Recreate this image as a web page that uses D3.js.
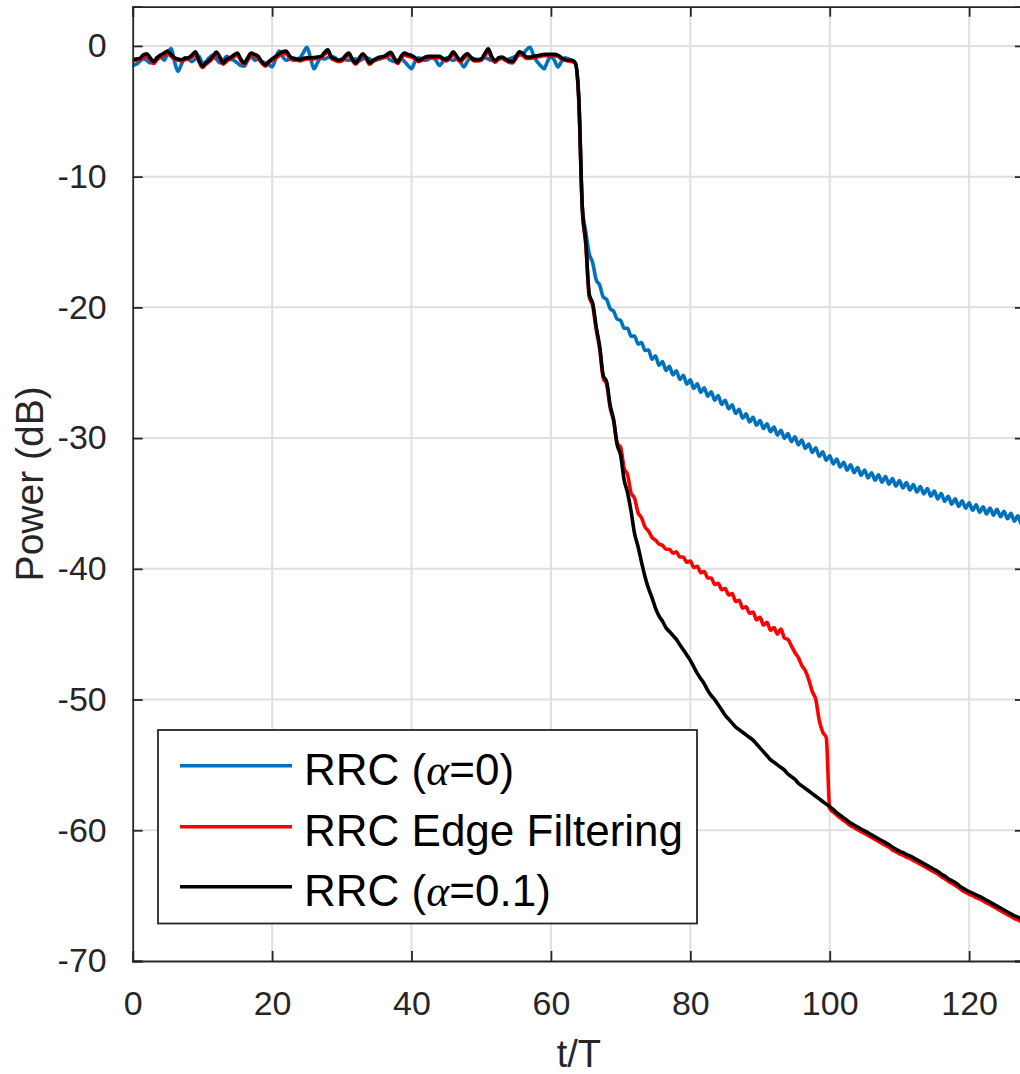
<!DOCTYPE html>
<html>
<head>
<meta charset="utf-8">
<script src="https://cdn.jsdelivr.net/npm/d3@7"></script>
<style>
  html, body { margin: 0; padding: 0; background: #fff; }
  svg { display: block; }
</style>
</head>
<body>
<svg id="chart" width="1020" height="1074"></svg>
<script>
// ---------------- DATA ----------------
const xTicks = [0, 20, 40, 60, 80, 100, 120];
const yTicks = [0, -10, -20, -30, -40, -50, -60, -70];
const xDomain = [0, 128];
const yDomain = [-70, 3];
const seriesNames = ["RRC (\u03B1=0)", "RRC Edge Filtering", "RRC (\u03B1=0.1)"];
const tStep = 0.5;      // sampling step of the read-off values (t/T)
const tailStart = 64;   // tail arrays start at t/T = 64

// t = 0 ... 63.5 (8 values per line = 4 units of t/T)
const blueFlat = [
  -1.5,-1.4,-1.2,-1.0,-1.1,-1.3,-1.2,-0.9,
  -0.8,-1.1,-0.6,-0.2,-1.2,-1.95,-1.4,-0.9,
  -1.0,-1.2,-1.0,-0.8,-1.3,-1.2,-0.9,-0.7,
  -1.0,-1.3,-1.1,-0.8,-1.0,-1.1,-1.3,-1.5,
  -1.55,-1.1,-0.8,-1.1,-1.0,-1.2,-1.3,-1.4,
  -1.6,-1.0,-0.4,-0.8,-1.1,-1.0,-0.9,-1.0,
  -0.9,-0.5,-0.1,-0.9,-1.75,-1.3,-0.9,-1.0,
  -0.9,-0.8,-0.9,-1.1,-1.0,-1.05,-1.1,-1.0,
  -1.0,-1.15,-1.0,-0.9,-1.0,-1.1,-1.05,-1.0,
  -0.85,-0.9,-1.1,-1.2,-1.1,-1.0,-1.2,-1.5,
  -1.75,-1.2,-0.9,-1.0,-1.1,-1.0,-0.9,-1.1,
  -1.5,-1.2,-0.9,-1.0,-1.1,-1.0,-1.2,-1.6,
  -1.2,-0.9,-1.0,-1.1,-1.0,-0.9,-1.0,-1.1,
  -1.1,-1.0,-0.9,-1.1,-1.0,-0.9,-0.8,-0.7,
  -0.6,-0.3,-0.1,-0.7,-1.2,-1.5,-1.75,-1.2,
  -0.8,-1.1,-1.6,-1.2,-0.9,-1.0,-1.1,-1.3
];
const redFlat = [
  -1.15,-1.1,-1.05,-0.85,-0.8,-1.05,-1.35,-1.05,
  -0.85,-0.7,-0.6,-0.8,-1.0,-1.1,-1.15,-1.05,
  -1.0,-0.85,-0.65,-1.2,-1.65,-1.4,-1.2,-0.95,
  -0.65,-0.95,-1.4,-1.15,-1.0,-0.85,-0.7,-1.1,
  -1.4,-1.05,-0.7,-0.8,-0.95,-1.3,-1.55,-1.3,
  -1.1,-0.95,-0.75,-0.6,-0.6,-0.9,-1.1,-1.1,
  -1.15,-1.05,-1.0,-1.0,-1.0,-0.95,-0.9,-0.65,
  -0.5,-0.95,-1.1,-1.2,-1.15,-0.9,-0.7,-1.1,
  -1.4,-1.05,-0.75,-1.0,-1.4,-1.2,-1.05,-0.95,
  -0.9,-0.8,-0.65,-1.0,-1.35,-0.95,-0.7,-0.8,
  -0.85,-1.0,-1.2,-1.1,-0.95,-0.9,-0.9,-0.9,
  -0.9,-1.05,-1.15,-0.95,-0.6,-0.95,-1.2,-0.95,
  -0.75,-0.95,-1.15,-1.15,-1.1,-0.75,-0.45,-0.95,
  -1.25,-1.0,-0.95,-1.1,-1.25,-1.3,-0.95,-0.6,
  -0.75,-0.95,-0.95,-0.9,-0.85,-0.8,-0.75,-0.75,
  -0.75,-0.75,-0.8,-1.0,-1.1,-1.15,-1.2,-1.35
];
const blackFlat = [
  -1.05,-1.0,-0.95,-0.7,-0.6,-0.9,-1.2,-0.9,
  -0.7,-0.55,-0.4,-0.65,-0.9,-1.0,-1.05,-0.95,
  -0.9,-0.7,-0.45,-1.1,-1.55,-1.3,-1.1,-0.8,
  -0.47,-0.85,-1.3,-1.0,-0.9,-0.7,-0.55,-1.0,
  -1.3,-0.9,-0.55,-0.65,-0.8,-1.2,-1.45,-1.2,
  -1.0,-0.8,-0.6,-0.45,-0.4,-0.75,-0.97,-1.0,
  -1.05,-0.95,-0.9,-0.9,-0.88,-0.85,-0.8,-0.5,
  -0.3,-0.85,-1.0,-1.1,-1.05,-0.75,-0.55,-1.0,
  -1.3,-0.95,-0.6,-0.9,-1.3,-1.1,-0.95,-0.85,
  -0.8,-0.65,-0.48,-0.9,-1.25,-0.8,-0.55,-0.65,
  -0.72,-0.9,-1.1,-1.0,-0.85,-0.8,-0.8,-0.8,
  -0.8,-0.95,-1.05,-0.8,-0.45,-0.8,-1.1,-0.8,
  -0.58,-0.85,-1.05,-1.05,-1.0,-0.6,-0.22,-0.8,
  -1.15,-0.9,-0.85,-1.0,-1.15,-1.2,-0.8,-0.45,
  -0.6,-0.85,-0.85,-0.8,-0.75,-0.7,-0.65,-0.65,
  -0.65,-0.65,-0.7,-0.9,-1.05,-1.1,-1.1,-1.3
];

// t = 64 ... 128
const blueTail = [
  -4.0,-12.3,-14.2,-15.9,-16.6,-17.9,-18.3,-19.2,
  -19.4,-20.1,-20.3,-20.9,-21.0,-21.6,-21.6,-22.2,
  -22.2,-22.8,-22.7,-23.3,-23.25,-23.97,-23.7,-24.42,
  -24.15,-24.82,-24.5,-25.17,-24.85,-25.52,-25.2,-25.87,
  -25.55,-26.2,-25.85,-26.5,-26.15,-26.8,-26.45,-27.1,
  -26.75,-27.42,-27.1,-27.77,-27.45,-28.12,-27.8,-28.47,
  -28.15,-28.77,-28.4,-29.02,-28.65,-29.27,-28.9,-29.52,
  -29.15,-29.77,-29.4,-30.02,-29.65,-30.27,-29.9,-30.52,
  -30.15,-30.8,-30.45,-31.1,-30.75,-31.4,-31.05,-31.7,
  -31.35,-31.97,-31.6,-32.22,-31.85,-32.45,-32.05,-32.65,
  -32.25,-32.85,-32.45,-33.05,-32.65,-33.22,-32.8,-33.37,
  -32.95,-33.52,-33.1,-33.67,-33.25,-33.82,-33.4,-33.97,
  -33.55,-34.12,-33.7,-34.27,-33.85,-34.45,-34.05,-34.65,
  -34.25,-34.85,-34.45,-35.05,-34.65,-35.22,-34.8,-35.37,
  -34.95,-35.52,-35.1,-35.67,-35.25,-35.8,-35.35,-35.9,
  -35.45,-36.02,-35.6,-36.17,-35.75,-36.35,-35.95,-36.6,
  -36.25
];
const redTail = [
  -4.2,-12.5,-15.2,-19.2,-19.9,-21.7,-23.2,-25.4,
  -25.9,-27.7,-28.7,-30.4,-30.7,-32.3,-32.8,-34.2,
  -34.6,-35.7,-36.1,-36.8,-37.1,-37.6,-37.8,-38.1,
  -38.2,-38.5,-38.5,-38.8,-38.7,-39.1,-39.1,-39.5,
  -39.4,-39.9,-39.8,-40.3,-40.2,-40.7,-40.7,-41.2,
  -41.1,-41.6,-41.5,-42.0,-41.9,-42.5,-42.4,-43.0,
  -42.9,-43.4,-43.3,-43.9,-43.7,-44.3,-44.1,-44.7,
  -44.5,-45.0,-44.6,-45.3,-45.4,-45.9,-46.4,-46.8,
  -47.4,-47.8,-48.5,-49.4,-50.0,-51.6,-52.5,-52.9,
  -58.35,-58.6,-58.85,-59.05,-59.25,-59.45,-59.65,-59.8,
  -59.95,-60.1,-60.25,-60.4,-60.55,-60.7,-60.85,-61.0,
  -61.15,-61.3,-61.5,-61.65,-61.8,-61.9,-62.05,-62.15,
  -62.3,-62.45,-62.6,-62.75,-62.9,-63.05,-63.2,-63.35,
  -63.55,-63.7,-63.9,-64.05,-64.2,-64.4,-64.6,-64.75,
  -64.9,-65.0,-65.15,-65.25,-65.4,-65.55,-65.7,-65.85,
  -66.0,-66.15,-66.3,-66.45,-66.6,-66.75,-66.85,-67.0,
  -67.15
];
const blackTail = [
  -4.0,-12.3,-15.0,-19.0,-19.7,-21.5,-23.0,-25.2,
  -25.7,-27.5,-28.6,-30.5,-31.3,-33.2,-34.2,-35.6,
  -37.3,-38.3,-39.5,-40.6,-41.5,-42.2,-43.0,-43.6,
  -44.0,-44.5,-44.8,-45.1,-45.4,-45.8,-46.2,-46.6,
  -47.0,-47.5,-48.0,-48.4,-48.8,-49.3,-49.7,-50.0,
  -50.4,-50.8,-51.2,-51.5,-51.8,-52.1,-52.3,-52.5,
  -52.7,-52.9,-53.1,-53.4,-53.7,-54.0,-54.3,-54.6,
  -54.8,-55.0,-55.2,-55.4,-55.7,-55.9,-56.1,-56.4,
  -56.6,-56.8,-57.0,-57.2,-57.4,-57.6,-57.8,-58.0,
  -58.2,-58.4,-58.65,-58.85,-59.05,-59.25,-59.45,-59.6,
  -59.75,-59.9,-60.05,-60.2,-60.35,-60.5,-60.65,-60.8,
  -60.95,-61.1,-61.3,-61.45,-61.6,-61.7,-61.85,-61.95,
  -62.1,-62.25,-62.4,-62.55,-62.7,-62.85,-63.0,-63.15,
  -63.35,-63.5,-63.7,-63.85,-64.0,-64.2,-64.4,-64.55,
  -64.7,-64.8,-64.95,-65.05,-65.2,-65.35,-65.5,-65.65,
  -65.8,-65.95,-66.1,-66.25,-66.4,-66.55,-66.65,-66.8,
  -66.95
];

// ---------------- LAYOUT ----------------
const colors = ["#0072BD", "#FF0000", "#000000"];
const margin = { left: 132.7, top: 6.7, right: 1024.9, bottom: 961 };
const textColor = "#262626";
const font = "'Liberation Sans', Arial, Helvetica, sans-serif";
const lineWidth = 3.6;

function build(flat, tail) {
  return flat.map((v, i) => ({ t: i * tStep, v }))
    .concat(tail.map((v, i) => ({ t: tailStart + i * tStep, v })));
}
const series = [build(blueFlat, blueTail), build(redFlat, redTail), build(blackFlat, blackTail)];

const svg = d3.select("#chart");
svg.append("rect").attr("width", 1020).attr("height", 1074).attr("fill", "#fff");

const x = d3.scaleLinear().domain(xDomain).range([margin.left, margin.right]);
const y = d3.scaleLinear().domain(yDomain).range([margin.bottom, margin.top]);

// grid
const grid = svg.append("g").attr("stroke", "#dfdfdf").attr("stroke-width", 2);
grid.selectAll(".vg").data(xTicks.filter(d => d > xDomain[0])).enter().append("line")
  .attr("x1", d => x(d)).attr("x2", d => x(d))
  .attr("y1", margin.top).attr("y2", margin.bottom);
grid.selectAll(".hg").data(yTicks.filter(d => d > yDomain[0])).enter().append("line")
  .attr("y1", d => y(d)).attr("y2", d => y(d))
  .attr("x1", margin.left).attr("x2", margin.right);

// clip
svg.append("clipPath").attr("id", "plotclip").append("rect")
  .attr("x", margin.left).attr("y", margin.top)
  .attr("width", margin.right - margin.left).attr("height", margin.bottom - margin.top);

const line = d3.line().x(d => x(d.t)).y(d => y(d.v)).curve(d3.curveMonotoneX);
const plot = svg.append("g").attr("clip-path", "url(#plotclip)");
series.forEach((s, i) => {
  plot.append("path").datum(s)
    .attr("fill", "none")
    .attr("stroke", colors[i])
    .attr("stroke-width", lineWidth)
    .attr("stroke-linejoin", "round")
    .attr("stroke-linecap", "round")
    .attr("d", line);
});

// axes (box style, ticks inward)
const tickLen = 10;
const axBottom = d3.axisBottom(x).tickValues(xTicks).tickSize(-tickLen).tickPadding(30).tickFormat(d3.format("d"));
const axTop = d3.axisTop(x).tickValues(xTicks).tickSize(-tickLen).tickFormat("");
const axLeft = d3.axisLeft(y).tickValues(yTicks).tickSize(-tickLen).tickPadding(26).tickFormat(d => d === 0 ? "0" : "-" + Math.abs(d));
const axRight = d3.axisRight(y).tickValues(yTicks).tickSize(-tickLen).tickFormat("");

function styleAxis(g) {
  g.select(".domain").attr("stroke", textColor).attr("stroke-width", 1.8);
  g.selectAll(".tick line").attr("stroke", textColor).attr("stroke-width", 1.8);
  g.selectAll(".tick text").attr("fill", textColor).style("font-family", font).style("font-size", "34px");
}
svg.append("g").attr("transform", `translate(0,${margin.bottom})`).call(axBottom).call(styleAxis);
svg.append("g").attr("transform", `translate(0,${margin.top})`).call(axTop).call(styleAxis);
svg.append("g").attr("transform", `translate(${margin.left},0)`).call(axLeft).call(styleAxis);
svg.append("g").attr("transform", `translate(${margin.right},0)`).call(axRight).call(styleAxis);

// axis labels
svg.append("text").text("t/T")
  .attr("x", (margin.left + margin.right) / 2).attr("y", 1067)
  .attr("text-anchor", "middle").attr("fill", textColor)
  .style("font-family", font).style("font-size", "38px");
svg.append("text").text("Power (dB)")
  .attr("transform", `translate(43,${(margin.top + margin.bottom) / 2}) rotate(-90)`)
  .attr("text-anchor", "middle").attr("fill", textColor)
  .style("font-family", font).style("font-size", "39px");

// legend
const lg = svg.append("g");
lg.append("rect").attr("x", 158).attr("y", 730).attr("width", 539).attr("height", 193.5)
  .attr("fill", "#fff").attr("stroke", textColor).attr("stroke-width", 1.8);
const rowY = [765.7, 826.7, 886.7];
seriesNames.forEach((name, i) => {
  lg.append("line").attr("x1", 180).attr("x2", 292).attr("y1", rowY[i]).attr("y2", rowY[i])
    .attr("stroke", colors[i]).attr("stroke-width", lineWidth);
  const txt = lg.append("text").attr("x", 304).attr("y", rowY[i] + 19.5)
    .attr("fill", "#000").style("font-family", font).style("font-size", "44px");
  const parts = name.split("\u03B1");
  txt.append("tspan").text(parts[0]);
  if (parts.length > 1) {
    txt.append("tspan").text("\u03B1")
      .style("font-family", "'Liberation Serif', 'DejaVu Serif', serif").style("font-style", "italic");
    txt.append("tspan").text(parts[1]);
  }
});
</script>
</body>
</html>
